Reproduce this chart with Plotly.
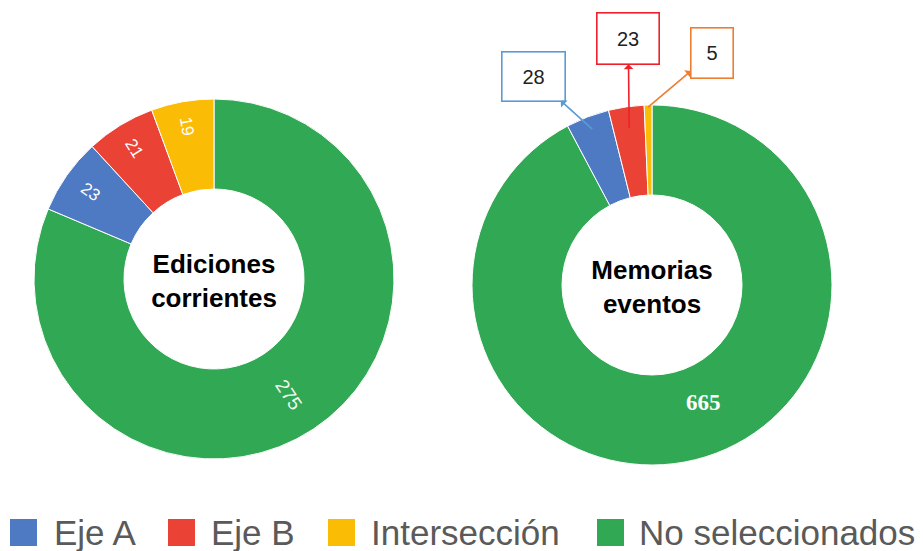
import math
import plotly.graph_objects as go

# ---------------- data ----------------
categories = ["No seleccionados", "Eje A", "Eje B", "Intersección"]
legend_order = ["Eje A", "Eje B", "Intersección", "No seleccionados"]
ediciones_values = [275, 23, 21, 19]
memorias_values = [665, 28, 23, 5]
ediciones_title = "Ediciones<br>corrientes"
memorias_title = "Memorias<br>eventos"

# ---------------- styling ----------------
OFF = 8                       # page body margin of the html page
W, H = 923 - OFF, 551 - OFF   # figure size so that it fits the window
colors = {"No seleccionados": "#31a853", "Eje A": "#4e79c3",
          "Eje B": "#ea4335", "Intersección": "#fbbc05"}
callout_colors = {"Eje A": "#5b9bd5", "Eje B": "#f0202a", "Intersección": "#ed7d31"}
slice_colors = [colors[c] for c in categories]

R = 180
HOLE = 0.5
left_center = (214 - OFF, 279 - OFF)
right_center = (652 - OFF, 285 - OFF)


def domain(center):
    cx, cy = center
    return dict(x=[(cx - R) / W, (cx + R) / W],
                y=[(H - cy - R) / H, (H - cy + R) / H])


def px2paper(px, py):
    return px / W, 1 - py / H


fig = go.Figure()

title_font = dict(family="Liberation Sans", size=26, color="black", weight="bold")

# small slices labelled by plotly (radial); the big slice is labelled below
ed_text = ["" if c == "No seleccionados" else str(v) for c, v in zip(categories, ediciones_values)]
fig.add_trace(go.Pie(
    labels=categories, values=ediciones_values, sort=False,
    direction="clockwise", rotation=0, hole=HOLE,
    domain=domain(left_center),
    marker=dict(colors=slice_colors, line=dict(color="white", width=1)),
    text=ed_text, textinfo="text", textposition="inside", insidetextorientation="radial",
    insidetextfont=dict(family="Liberation Sans", color="white", size=17),
    title=dict(text=ediciones_title, position="middle center", font=title_font),
    showlegend=False, hoverinfo="label+value",
))

fig.add_trace(go.Pie(
    labels=categories, values=memorias_values, sort=False,
    direction="clockwise", rotation=0, hole=HOLE,
    domain=domain(right_center),
    marker=dict(colors=slice_colors, line=dict(color="white", width=1)),
    textinfo="none",
    title=dict(text=memorias_title, position="middle center", font=title_font),
    showlegend=False, hoverinfo="label+value",
))

annotations = []


def slice_mid(values, idx):
    total = sum(values)
    start = sum(values[:idx])
    return (start + values[idx] / 2) / total * 2 * math.pi


# ---------------- labels of the big (green) slices ----------------
r_mid = R * (1 + HOLE) / 2
gi = categories.index("No seleccionados")

th = slice_mid(ediciones_values, gi)
px = left_center[0] + r_mid * math.sin(th)
py = left_center[1] - r_mid * math.cos(th) + 3
ang = math.degrees(th) - 90
x, y = px2paper(px, py)
annotations.append(dict(x=x, y=y, xref="paper", yref="paper", showarrow=False,
                        xanchor="center", yanchor="middle",
                        text=str(ediciones_values[gi]), textangle=ang,
                        font=dict(family="Liberation Sans", size=19, color="#f0f8f0")))

th = slice_mid(memorias_values, gi)
px = right_center[0] + r_mid * math.sin(th) + 19
py = right_center[1] - r_mid * math.cos(th) - 14
x, y = px2paper(px, py)
annotations.append(dict(x=x, y=y, xref="paper", yref="paper", showarrow=False,
                        xanchor="center", yanchor="middle",
                        text="<b>%d</b>" % memorias_values[gi],
                        font=dict(family="Liberation Serif", size=23, color="white")))

# ---------------- callouts for small slices of the right donut ----------------
tail_r = {"Eje A": 167, "Eje B": 159, "Intersección": 178}
box_offset = {"Eje A": (-59, -53), "Eje B": (-1, -89), "Intersección": (64, -54)}
box_size = {"Eje A": (58, 44), "Eje B": (57, 46), "Intersección": (37, 45)}

for i, (cat, val) in enumerate(zip(categories, memorias_values)):
    if cat == "No seleccionados":
        continue
    mid = slice_mid(memorias_values, i)
    r = tail_r[cat]
    px = right_center[0] + r * math.sin(mid)
    py = right_center[1] - r * math.cos(mid)
    ax, ay = box_offset[cat]
    bw, bh = box_size[cat]
    col = callout_colors[cat]
    x, y = px2paper(px, py)
    annotations.append(dict(
        x=x, y=y, xref="paper", yref="paper",
        ax=ax, ay=ay, axref="pixel", ayref="pixel",
        text=str(val), showarrow=True, arrowside="start",
        arrowhead=2, arrowsize=1.3, arrowwidth=1.6, arrowcolor=col,
        bordercolor=col, borderwidth=1.6, borderpad=2, bgcolor="white",
        width=bw, height=bh, align="center", valign="middle",
        font=dict(family="Liberation Sans", size=20, color="#222222"),
    ))

# ---------------- legend (large squares) ----------------
legend_sq_x = [10, 168, 328, 597]
legend_txt_x = [52, 209, 369, 637]
sq = 27
sq_top = 519
shapes = []
for cat, sx, tx in zip(legend_order, legend_sq_x, legend_txt_x):
    x0, y1 = px2paper(sx - OFF, sq_top - OFF)
    x1, y0 = px2paper(sx - OFF + sq, sq_top - OFF + sq)
    shapes.append(dict(type="rect", xref="paper", yref="paper",
                       x0=x0, x1=x1, y0=y0, y1=y1,
                       fillcolor=colors[cat], line=dict(width=0)))
    x, y = px2paper(tx - OFF, sq_top - OFF + sq / 2)
    annotations.append(dict(
        x=x, y=y, xref="paper", yref="paper",
        xanchor="left", yanchor="middle", showarrow=False, text=cat,
        font=dict(family="Liberation Sans", size=35, color="#5a5a5a"),
    ))

fig.update_layout(
    width=W, height=H, margin=dict(l=0, r=0, t=0, b=0),
    paper_bgcolor="white", plot_bgcolor="white",
    annotations=annotations, shapes=shapes, showlegend=False,
)

fig.write_html("out.html")
